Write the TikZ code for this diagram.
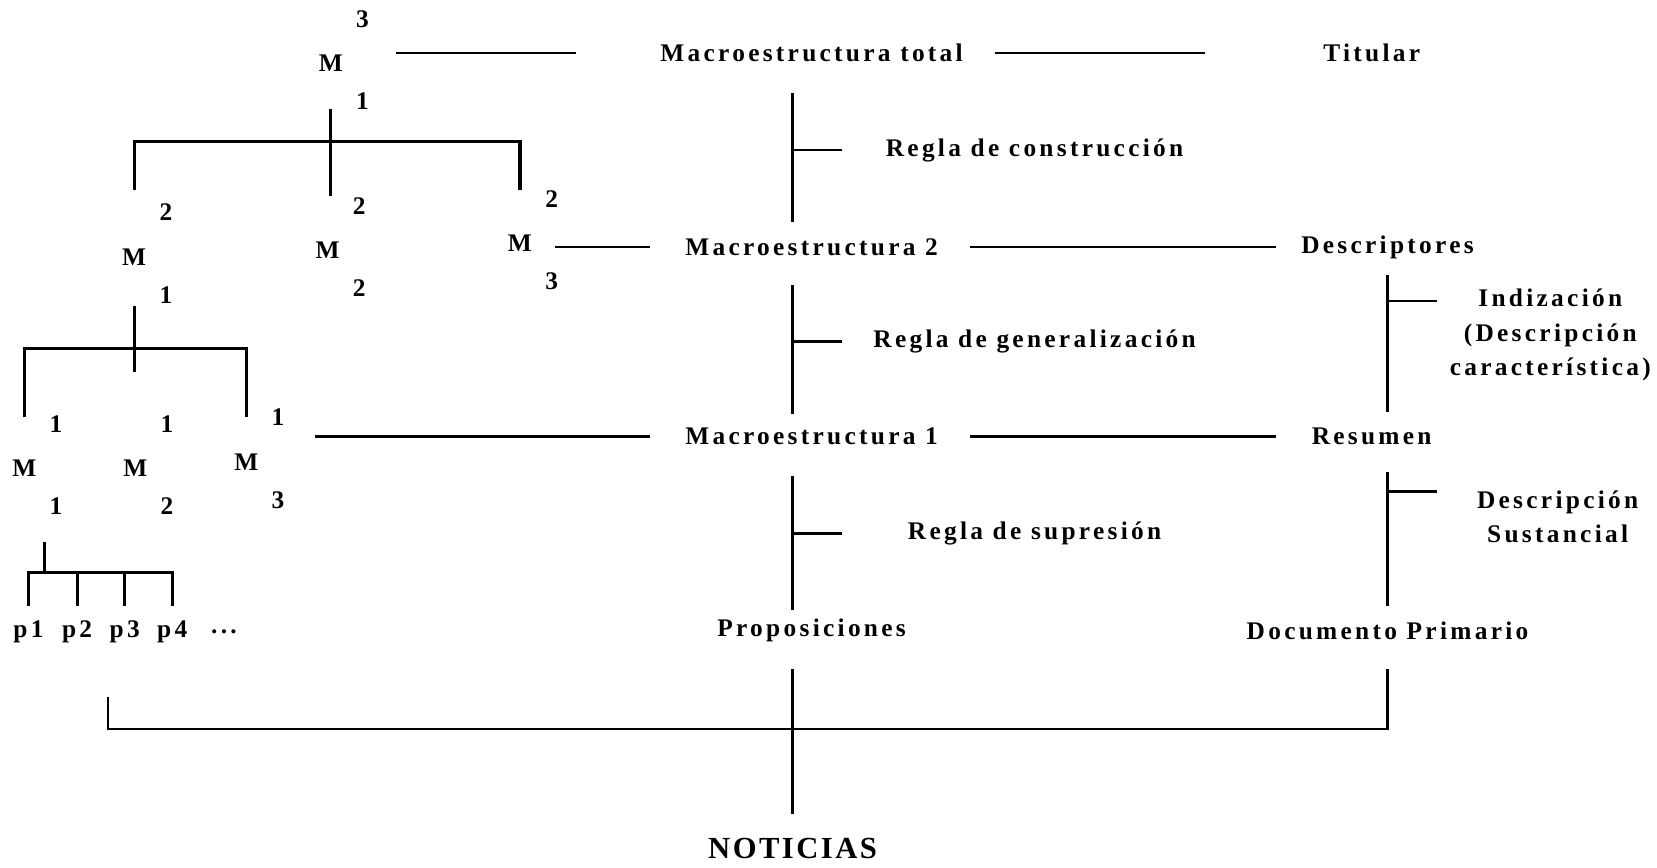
\documentclass[tikz,border=0pt]{standalone}
\usepackage{fontspec}
\setmainfont{Liberation Serif}
\newfontfamily\spacedfont[LetterSpace=13]{Liberation Serif}
\newfontfamily\titlefont[LetterSpace=8]{Liberation Serif}
\newcommand{\mnode}[5]{%
  \node[lbl] (#1) at (#2,#3) {M};
  \node[lbl] (#1-up) at (#2+30,#3-42) {#4};
  \node[lbl] (#1-dn) at (#2+30,#3+36) {#5};}

\begin{document}
\begin{tikzpicture}[x=1pt,y=-1pt,
  lbl/.style={font=\spacedfont\bfseries\fontsize{24}{32.5}\selectfont,inner sep=0pt,align=center},
  ln/.style={line width=2.3pt},
  tree/.style={line width=3pt}]
\useasboundingbox (0,0) rectangle (1568,821);

% macrostructure tree
\mnode{mt}{313}{60}{3}{1}
\mnode{ma}{127}{243}{2}{1}
\mnode{mb}{310}{237}{2}{2}
\mnode{mc}{492}{230}{2}{3}
\mnode{md}{23}{443}{1}{1}
\mnode{me}{128}{443}{1}{2}
\mnode{mf}{233}{437}{1}{3}
\node[lbl] (p1) at (27,598) {p1};
\node[lbl] (p2) at (73,598) {p2};
\node[lbl] (p3) at (118,598) {p3};
\node[lbl] (p4) at (163,598) {p4};
\node[lbl] (dots) at (212,598) {...};

% levels
\node[lbl] (mtotal) at (768,50) {Macroestructura total};
\node[lbl] (titular) at (1298,50) {Titular};
\node[lbl] (rcons) at (979,142) {Regla de construcción};
\node[lbl] (macdos) at (768,234) {Macroestructura 2};
\node[lbl] (descr) at (1313,234) {Descriptores};
\node[lbl] (rgen) at (979,323) {Regla de generalización};
\node[lbl] (indiz) at (1467,317) {Indización\\(Descripción\\característica)};
\node[lbl] (macuno) at (768,413) {Macroestructura 1};
\node[lbl] (resumen) at (1298,413) {Resumen};
\node[lbl] (rsup) at (979,505) {Regla de supresión};
\node[lbl] (descsust) at (1474,489) {Descripción\\Sustancial};
\node[lbl] (prop) at (768,597) {Proposiciones};
\node[lbl] (docprim) at (1313,597) {Documento Primario};
\node[font=\titlefont\bfseries\fontsize{29}{34}\selectfont,inner sep=0pt] (noticias) at (750,803) {NOTICIAS};

% tree lines
\coordinate (bar1) at (313,134);
\coordinate (bar2) at (130,330);
\coordinate (bar3) at (42,542);
\draw[tree,shorten <=43pt,shorten >=52pt] (mt.center) -- (mt |- mb);
\draw[tree,shorten <=63pt,shorten >=50pt] (ma.center) |- (bar1) -| (mc.center);
\draw[tree,shorten <=47pt,shorten >=91pt] (ma.center) -- (ma |- me);
\draw[tree,shorten <=48pt,shorten >=42pt] (md.center) |- (bar2) -| (mf.center);
\draw[tree,shorten <=34pt] (bar3 |- md-dn) -- (bar3);
\draw[tree,shorten <=25pt,shorten >=25pt] (p1.center) |- (bar3) -| (p4.center);
\foreach \p in {p2,p3}
  \draw[tree,shorten <=25pt] (\p.center) -- (\p |- bar3);

% horizontal links
\draw[ln,shorten <=62pt,shorten >=223pt] (mt |- mtotal) -- (mtotal.center);
\draw[ln,shorten <=174pt,shorten >=158pt] (mtotal.center) -- (titular.center);
\draw[ln,shorten <=33pt,shorten >=153pt] (mc |- macdos) -- (macdos.center);
\draw[ln,shorten <=150pt,shorten >=106pt] (macdos.center) -- (descr.center);
\draw[ln,shorten <=65pt,shorten >=153pt] (mf |- macuno) -- (macuno.center);
\draw[ln,shorten <=150pt,shorten >=91pt] (macuno.center) -- (resumen.center);

% rules
\draw[ln,shorten <=38pt,shorten >=24pt] (noticias |- mtotal) -- (noticias |- macdos);
\draw[ln,shorten >=182pt] (noticias |- rcons) -- (rcons.center);
\draw[ln,shorten <=36pt,shorten >=21pt] (noticias |- macdos) -- (noticias |- macuno);
\draw[ln,shorten >=182pt] (noticias |- rgen) -- (rgen.center);
\draw[ln,shorten <=37pt,shorten >=20pt] (noticias |- macuno) -- (noticias |- prop);
\draw[ln,shorten >=182pt] (noticias |- rsup) -- (rsup.center);

\path ([yshift=32pt]indiz.center) coordinate (indiz-top)
      ([yshift=24pt]descsust.center) coordinate (descsust-top);
\draw[ln,shorten <=26pt,shorten >=23pt] (descr.center) -- (descr |- resumen);
\draw[ln,shorten >=107pt] (descr |- indiz-top) -- (indiz-top);
\draw[ln,shorten <=34pt,shorten >=24pt] (descr |- resumen) -- (docprim.center);
\draw[ln,shorten >=114pt] (descr |- descsust-top) -- (descsust-top);

% news
\coordinate (base) at (102,690);
\draw[ln,shorten <=36pt,shorten >=33pt] (noticias |- prop) -- (noticias.center);
\draw[ln,shorten <=36pt,shorten >=62pt] (docprim.center) |- (base) -- (base |- p2);
\end{tikzpicture}
\end{document}
